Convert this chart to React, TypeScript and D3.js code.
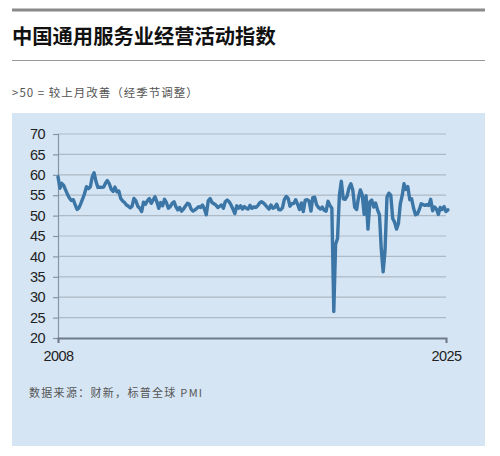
import React, { useEffect, useRef } from 'react';
import * as d3 from 'd3';

// monthly index, Jan 2008 .. Feb 2025
const startYear = 2008;
const values2008 = [59.5, 56.7, 57.9, 57.4, 56.3, 55.2, 54.3, 53.7, 53.9, 52.7, 51.5, 51.9];
const values2009 = [53.0, 54.2, 55.4, 57.1, 56.6, 57.0, 59.4, 60.5, 58.3, 56.9, 57.0, 56.9];
const values2010 = [57.0, 58.0, 58.6, 57.8, 56.5, 55.9, 57.0, 55.8, 56.0, 54.2, 53.6, 53.2];
const values2011 = [52.6, 52.3, 51.9, 52.3, 54.2, 53.6, 52.3, 51.8, 51.0, 53.3, 52.8, 53.6];
const values2012 = [54.2, 53.0, 53.8, 54.6, 53.4, 51.8, 53.2, 52.4, 54.0, 53.2, 51.8, 52.2];
const values2013 = [53.0, 53.4, 52.2, 51.4, 52.0, 51.1, 51.6, 52.3, 53.0, 52.8, 51.6, 51.1];
const values2014 = [51.4, 51.8, 52.2, 52.0, 52.6, 51.6, 50.2, 53.6, 54.2, 53.2, 52.9, 52.6];
const values2015 = [52.0, 52.3, 52.6, 51.8, 53.4, 53.8, 53.4, 52.6, 51.6, 50.5, 52.4, 51.8];
const values2016 = [52.4, 51.6, 52.2, 51.8, 51.6, 52.5, 51.8, 52.1, 52.0, 52.4, 53.1, 53.4];
const values2017 = [53.1, 52.6, 52.1, 51.6, 52.6, 51.8, 52.0, 52.8, 51.5, 51.4, 51.9, 53.9];
const values2018 = [54.7, 54.2, 52.3, 52.9, 53.0, 53.9, 52.8, 51.5, 53.1, 51.0, 53.8, 53.9];
const values2019 = [53.6, 51.1, 54.4, 54.5, 52.7, 52.0, 51.6, 52.1, 51.3, 51.1, 53.5, 52.5];
const values2020 = [51.8, 26.5, 43.0, 44.4, 55.0, 58.4, 54.1, 54.0, 54.8, 56.8, 57.8, 56.3];
const values2021 = [52.0, 51.5, 54.3, 56.3, 55.1, 50.3, 54.9, 46.7, 53.4, 53.8, 52.1, 53.1];
const values2022 = [51.4, 50.2, 42.0, 36.2, 41.4, 54.5, 55.5, 55.0, 49.3, 48.4, 46.7, 48.0];
const values2023 = [52.9, 55.0, 57.8, 56.4, 57.1, 53.9, 54.1, 51.8, 50.2, 50.4, 51.5, 52.9];
const values2024 = [52.7, 52.5, 52.7, 52.5, 54.0, 51.2, 52.1, 51.6, 50.3, 52.0, 51.5, 52.2];
const values2025 = [51.0, 51.4];

const allValues = [
  ...values2008, ...values2009, ...values2010, ...values2011, ...values2012,
  ...values2013, ...values2014, ...values2015, ...values2016, ...values2017,
  ...values2018, ...values2019, ...values2020, ...values2021, ...values2022,
  ...values2023, ...values2024, ...values2025,
];

const yTicks = [20, 25, 30, 35, 40, 45, 50, 55, 60, 65, 70];
const xTickYears = [2008, 2025];

const title = '中国通用服务业经营活动指数';
const subtitle = '>50 = 较上月改善（经季节调整）';
const source = '数据来源：财新，标普全球 PMI';

const App: React.FC = () => {
  const svgRef = useRef<SVGSVGElement>(null);
  const width = 500;
  const height = 456;
  const plot = { left: 58, right: 446, top: 134, bottom: 338 };

  useEffect(() => {
    if (!svgRef.current) return;
    const svg = d3.select(svgRef.current);
    svg.selectAll('*').remove();

    const data = allValues.map((v, i) => ({
      date: new Date(startYear, i, 1),
      value: v,
    }));

    const xScale = d3.scaleTime()
      .domain([new Date(xTickYears[0], 0, 1), new Date(xTickYears[1], 0, 1)])
      .range([plot.left, plot.right]);

    const yScale = d3.scaleLinear()
      .domain([20, 70])
      .range([plot.bottom, plot.top]);

    // header
    svg.append('line')
      .attr('x1', 12).attr('x2', 485)
      .attr('y1', 10).attr('y2', 10)
      .attr('stroke', '#8a8a8a').attr('stroke-width', 3);

    svg.append('text')
      .attr('x', 12).attr('y', 44)
      .attr('font-family', '"Noto Sans CJK SC", sans-serif')
      .attr('font-weight', 700)
      .attr('font-size', 20.3)
      .attr('fill', '#111')
      .text(title);

    svg.append('line')
      .attr('x1', 12).attr('x2', 485)
      .attr('y1', 60.5).attr('y2', 60.5)
      .attr('stroke', '#999').attr('stroke-width', 1);

    svg.append('text')
      .attr('x', 12).attr('y', 97)
      .attr('font-family', '"Noto Sans CJK SC", sans-serif')
      .attr('font-size', 11.5)
      .attr('letter-spacing', 1)
      .attr('fill', '#555')
      .text(subtitle);

    // panel
    svg.append('rect')
      .attr('x', 12).attr('y', 113)
      .attr('width', 473).attr('height', 333)
      .attr('fill', '#d6e5f4');

    const g = svg.append('g');

    // gridlines
    g.selectAll('.grid')
      .data(yTicks.filter(t => t !== 20))
      .enter()
      .append('line')
      .attr('x1', plot.left).attr('x2', plot.right)
      .attr('y1', d => yScale(d)).attr('y2', d => yScale(d))
      .attr('stroke', '#adb9c4').attr('stroke-width', 1.2);

    // y axis
    const yAxis = d3.axisLeft(yScale).tickValues(yTicks).tickSize(5).tickPadding(8);
    const yG = g.append('g')
      .attr('transform', `translate(${plot.left},0)`)
      .call(yAxis);
    yG.select('.domain').attr('stroke', '#8795a1').attr('stroke-width', 1.2);
    yG.selectAll('.tick line').attr('stroke', '#8795a1').attr('stroke-width', 1.2);
    yG.selectAll('.tick text')
      .attr('font-family', '"Liberation Sans", Arial, sans-serif')
      .attr('font-size', 14.5)
      .attr('letter-spacing', -0.6)
      .attr('fill', '#222');

    // x axis
    const xAxis = d3.axisBottom(xScale)
      .tickValues(xTickYears.map(y => new Date(y, 0, 1)))
      .tickFormat(d3.timeFormat('%Y') as any)
      .tickSize(5)
      .tickPadding(8);
    const xG = g.append('g')
      .attr('transform', `translate(0,${plot.bottom})`)
      .call(xAxis);
    xG.select('.domain').attr('stroke', '#6f7b86').attr('stroke-width', 2);
    xG.selectAll('.tick line').attr('stroke', '#6f7b86').attr('stroke-width', 1.2);
    xG.selectAll('.tick text')
      .attr('font-family', '"Liberation Sans", Arial, sans-serif')
      .attr('font-size', 14.5)
      .attr('letter-spacing', -0.6)
      .attr('fill', '#222');

    // series
    const line = d3.line<{ date: Date; value: number }>()
      .x(d => xScale(d.date))
      .y(d => yScale(d.value));

    g.append('path')
      .datum(data)
      .attr('fill', 'none')
      .attr('stroke', '#3b76a6')
      .attr('stroke-width', 3.4)
      .attr('stroke-linejoin', 'round')
      .attr('stroke-linecap', 'round')
      .attr('d', line);

    svg.append('text')
      .attr('x', 29).attr('y', 397)
      .attr('font-family', '"Noto Sans CJK SC", sans-serif')
      .attr('font-size', 11)
      .attr('letter-spacing', 1.3)
      .attr('fill', '#555')
      .text(source);
  }, []);

  return (
    <div style={{ position: 'absolute', left: 0, top: 0, width, height, background: '#fff' }}>
      <svg ref={svgRef} width={width} height={height} />
    </div>
  );
};

export default App;
